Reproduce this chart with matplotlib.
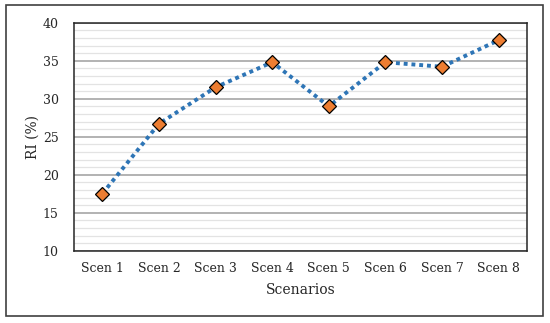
import matplotlib.pyplot as plt
from matplotlib.patches import Rectangle
from matplotlib.ticker import MultipleLocator

scenarios = ["Scen 1", "Scen 2", "Scen 3", "Scen 4", "Scen 5", "Scen 6", "Scen 7", "Scen 8"]
riValues = [17.5, 26.7, 31.5, 34.8, 29.0, 34.8, 34.2, 37.7]

plt.rcParams['font.family'] = ['DejaVu Serif']

fig = plt.figure(figsize=(5.5, 3.23), dpi=100)
ax = fig.add_axes([74 / 550, 1 - 250.7 / 323, (527 - 74) / 550, (250.7 - 22.7) / 323])

# outer frame around the whole chart
fig.patches.append(Rectangle((6 / 550, 1 - 316 / 323), 537 / 550, 311 / 323,
                             transform=fig.transFigure, fill=False,
                             edgecolor='#404040', linewidth=1.2))

x = list(range(len(scenarios)))
ax.plot(x, riValues, linestyle=(0, (1, 1)), color='#2E75B6', linewidth=2.8,
        marker='D', markersize=7.5, markerfacecolor='#ED7D31',
        markeredgecolor='black', markeredgewidth=0.9, zorder=3)

ax.set_xlim(-0.5, len(scenarios) - 0.5)
ax.set_ylim(10, 40)
ax.yaxis.set_major_locator(MultipleLocator(5))
ax.yaxis.set_minor_locator(MultipleLocator(1))
ax.grid(which='major', axis='y', color='#A6A6A6', linewidth=1.2)
ax.grid(which='minor', axis='y', color='#E3E3E3', linewidth=0.9)
ax.set_axisbelow(True)

ax.set_xticks(x)
ax.set_xticklabels(scenarios)
ax.tick_params(axis='both', which='both', length=0, labelsize=9, colors='#262626', pad=8)
ax.tick_params(axis='y', pad=11)

for s in ax.spines.values():
    s.set_color('#262626')
    s.set_linewidth(1.1)

ax.set_xlabel("Scenarios", fontsize=10, color='#262626', labelpad=6)
ax.set_ylabel("RI (%)", fontsize=10, color='#262626', labelpad=2)

plt.savefig("out.png", dpi=100)
